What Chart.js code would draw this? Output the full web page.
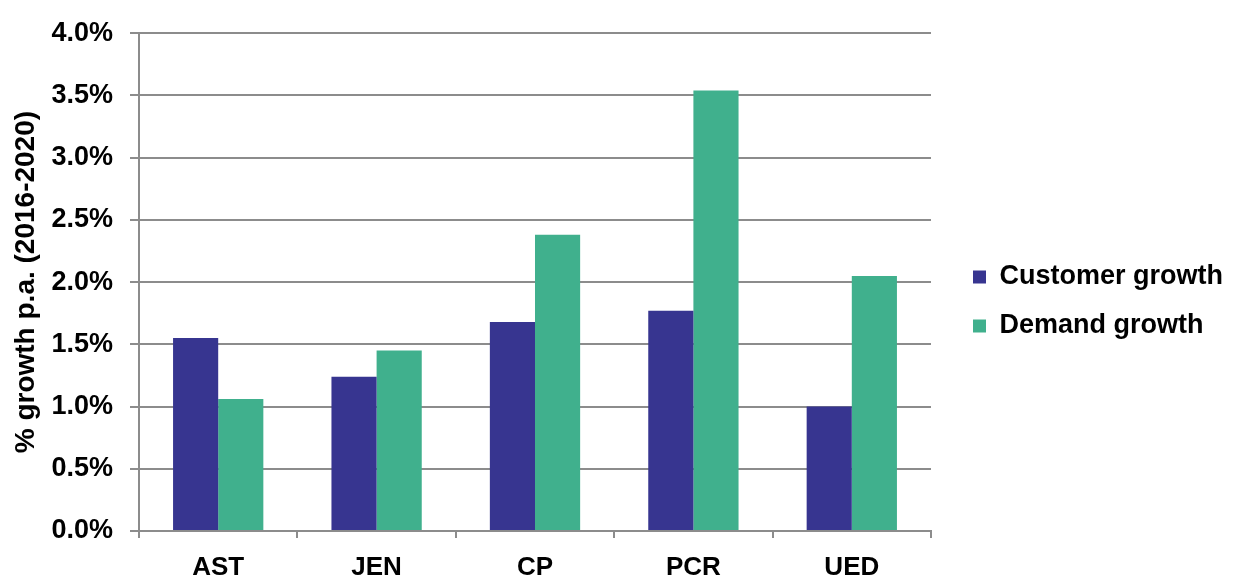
<!DOCTYPE html>
<html>
<head>
<meta charset="utf-8">
<script src="https://cdn.jsdelivr.net/npm/chart.js@4.4.0/dist/chart.umd.min.js"></script>
<style>
  html, body { margin: 0; padding: 0; background: #fff; }
  #chartDiv { width: 1233px; height: 575px; }
</style>
</head>
<body>
<div id="chartDiv"><canvas id="myChart"></canvas></div>
<script>
const canvas = document.getElementById('myChart');

const labels = ['AST', 'JEN', 'CP', 'PCR', 'UED'];
const customerGrowth = [1.55, 1.24, 1.68, 1.77, 1.00];
const demandGrowth = [1.06, 1.45, 2.38, 3.54, 2.05];
const yTicks = [0, 0.5, 1, 1.5, 2, 2.5, 3, 3.5, 4];

const gridColor = '#8c8c8c';
const fontFamily = '"Liberation Sans", Arial, sans-serif';

Chart.defaults.font.family = fontFamily;
Chart.defaults.color = '#000';

const dataConf = {
    labels: labels,
    datasets: [{
        label: 'Customer growth',
        data: customerGrowth,
        backgroundColor: '#373590',
        borderWidth: 0,
        categoryPercentage: 0.57,
        barPercentage: 1.0
    }, {
        label: 'Demand growth',
        data: demandGrowth,
        backgroundColor: '#40b08d',
        borderWidth: 0,
        categoryPercentage: 0.57,
        barPercentage: 1.0
    }]
};

const config = {
    type: 'bar',
    data: dataConf,
    options: {
        responsive: true,
        maintainAspectRatio: false,
        animation: false,
        layout: {
            padding: { top: 28, right: 0, bottom: 0, left: 0 }
        },
        plugins: {
            tooltip: { enabled: false },
            legend: {
                position: 'right',
                align: 'center',
                labels: {
                    boxWidth: 13,
                    boxHeight: 13,
                    padding: 22,
                    color: '#000',
                    font: { size: 27, weight: 'bold' }
                }
            }
        },
        scales: {
            x: {
                grid: {
                    drawOnChartArea: false,
                    drawTicks: true,
                    tickLength: 7,
                    color: gridColor,
                    lineWidth: 2
                },
                border: { color: gridColor, width: 2 },
                ticks: {
                    padding: 14,
                    color: '#000',
                    font: { size: 26, weight: 'bold' }
                },
                afterFit: scale => { scale.height = 44; }
            },
            y: {
                min: 0,
                max: 4,
                afterBuildTicks: scale => {
                    scale.ticks = yTicks.map(v => ({ value: v }));
                },
                grid: {
                    color: gridColor,
                    lineWidth: 2,
                    tickLength: 9
                },
                border: { color: gridColor, width: 2 },
                ticks: {
                    padding: 17,
                    color: '#000',
                    font: { size: 27, weight: 'bold' },
                    callback: v => v.toFixed(1) + '%'
                },
                title: {
                    display: true,
                    text: '% growth p.a. (2016-2020)',
                    color: '#000',
                    font: { size: 28, weight: 'bold' },
                    padding: { top: 9, bottom: 0 }
                },
                afterFit: scale => { scale.width = 139; }
            },
            // empty spacer between the plot and the legend
            y2: {
                position: 'right',
                display: false,
                afterFit: scale => { scale.width = 20; }
            }
        }
    }
};

const myChart = new Chart(canvas, config);
</script>
</body>
</html>
